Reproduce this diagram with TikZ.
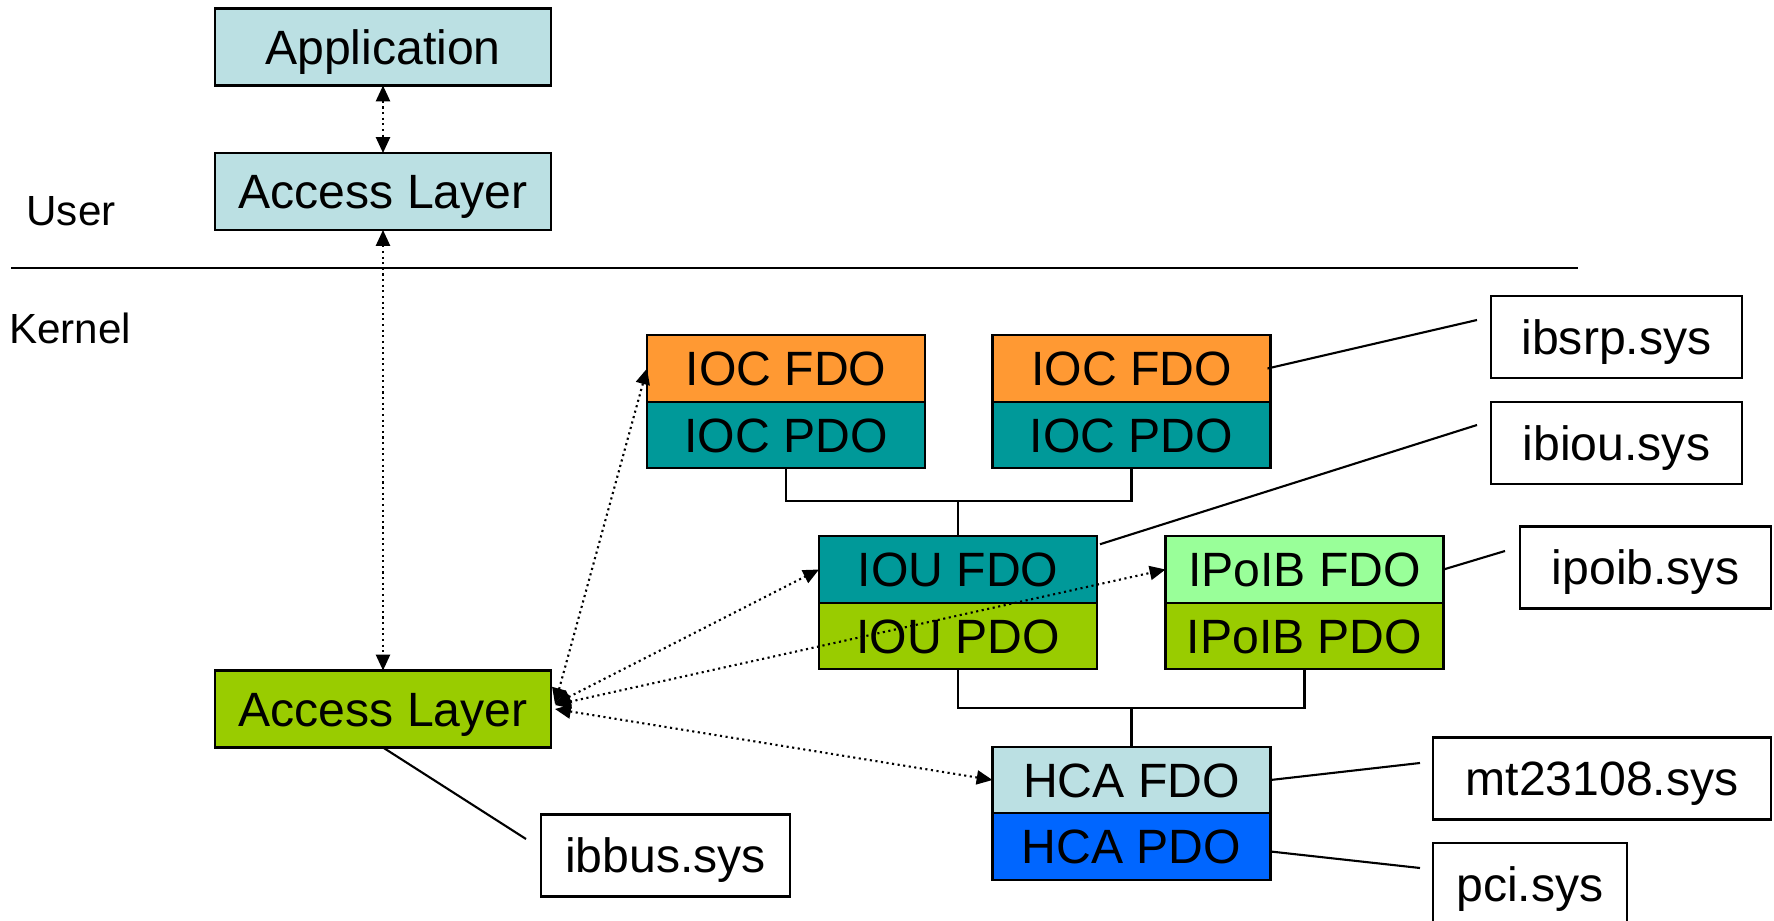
\documentclass[tikz,border=0pt]{standalone}
\usepackage{fontspec}
\setmainfont{Liberation Sans}
\usepackage{tikz}
\usetikzlibrary{arrows.meta, positioning, calc}
\definecolor{PaleBlue}{HTML}{BBE0E3}
\definecolor{IOCOrange}{HTML}{FF9933}
\definecolor{DeepTeal}{HTML}{009999}
\definecolor{LimeGreen}{HTML}{99CC00}
\definecolor{MintGreen}{HTML}{99FF99}
\definecolor{HCABlue}{HTML}{0066FF}

\begin{document}
\begin{tikzpicture}[>={Triangle[length=4.5pt, width=4pt]},
    big/.style={draw, line width=0.7pt, outer sep=0pt, inner sep=0pt, minimum width=3.36cm, minimum height=0.77cm, text height=9.8pt, text depth=0pt, font=\fontsize{13.7pt}{16pt}\selectfont},
    dev/.style={big, minimum width=2.78cm, minimum height=0.665cm},
    sys/.style={big, fill=white, line width=0.6pt, minimum height=0.82cm},
    tag/.style={font=\fontsize{12pt}{14pt}\selectfont},
    link/.style={line width=0.6pt},
    dots/.style={<->, densely dotted, line width=0.6pt}]
    \useasboundingbox (0,0) rectangle (17.74,-9.21);

    % User side
    \node[big, fill=PaleBlue] (app) at (3.83,-0.47) {Application};
    \node[big, fill=PaleBlue] (accU) at (3.83,-1.915) {Access Layer};
    \node[tag] (user) at (0.71,-2.11) {User};

    % User / Kernel split
    \coordinate (sepL) at (0.11,-2.68);
    \coordinate (sepR) at (15.78,-2.68);
    \draw[link] (sepL) -- (sepR);
    \node[tag] (kernel) at (0.70,-3.28) {Kernel};

    % Kernel side
    \node[big, fill=LimeGreen] (accK) at (3.83,-7.09) {Access Layer};

    \node[dev, fill=IOCOrange] (iocfdoA) at (7.86,-3.685) {IOC FDO};
    \node[dev, fill=DeepTeal, below=0pt of iocfdoA] (iocpdoA) {IOC PDO};
    \node[dev, fill=IOCOrange] (iocfdoB) at (11.315,-3.685) {IOC FDO};
    \node[dev, fill=DeepTeal, below=0pt of iocfdoB] (iocpdoB) {IOC PDO};

    \node[dev, fill=DeepTeal] (ioufdo) at (9.58,-5.695) {IOU FDO};
    \node[dev, fill=LimeGreen, below=0pt of ioufdo] (ioupdo) {IOU PDO};
    \node[dev, fill=MintGreen] (ipoibfdo) at (13.045,-5.695) {IPoIB FDO};
    \node[dev, fill=LimeGreen, below=0pt of ipoibfdo] (ipoibpdo) {IPoIB PDO};

    \node[dev, fill=PaleBlue] (hcafdo) at (11.315,-7.80) {HCA FDO};
    \node[dev, fill=HCABlue, below=0pt of hcafdo] (hcapdo) {HCA PDO};

    % Driver files
    \node[sys, minimum width=2.51cm] (ibsrp) at (16.165,-3.37) {ibsrp.sys};
    \node[sys, minimum width=2.51cm] (ibiou) at (16.165,-4.43) {ibiou.sys};
    \node[sys, minimum width=2.51cm] (ipoib) at (16.455,-5.675) {ipoib.sys};
    \node[sys, minimum width=3.38cm] (mt) at (16.02,-7.785) {mt23108.sys};
    \node[sys, minimum width=1.94cm] (pci) at (15.30,-8.84) {pci.sys};
    \node[sys, minimum width=2.49cm] (ibbus) at (6.655,-8.555) {ibbus.sys};

    % Bus tree
    \draw[link] (iocpdoA.south) -- ++(0,-0.33) -| (iocpdoB.south);
    \draw[link] (ioufdo.north) -- ++(0,0.35);
    \draw[link] (ioupdo.south) -- ++(0,-0.39) -| (ipoibpdo.south);
    \draw[link] (hcafdo.north) -- ++(0,0.38);

    % Pointers to driver files
    \coordinate (srpend) at (14.77,-3.20);
    \coordinate (iouend) at (14.77,-4.25);
    \coordinate (ipoibend) at (15.05,-5.51);
    \coordinate (mtend) at (14.20,-7.63);
    \coordinate (pciend) at (14.20,-8.68);
    \coordinate (busend) at (5.26,-8.39);
    \draw[link] ([xshift=-0.03cm]iocfdoB.east) -- (srpend);
    \draw[link] ([xshift=0.03cm, yshift=-0.08cm]ioufdo.north east) -- (iouend);
    \draw[link] (ipoibfdo.east) -- (ipoibend);
    \draw[link] (hcafdo.east) -- (mtend);
    \draw[link] ([yshift=-0.05cm]hcapdo.east) -- (pciend);
    \draw[link] (accK.south) -- (busend);

    % Access layer calls
    \draw[dots] (app.south) -- (accU.north);
    \draw[dots] (accU.south) -- (accK.north);
    \draw[dots] ([shift={(0.04,0.05)}]accK.east) -- (iocfdoA.west);
    \draw[dots] ([shift={(0.04,0.05)}]accK.east) -- (ioufdo.west);
    \draw[dots] ([shift={(0.04,0.04)}]accK.east) -- (ipoibfdo.west);
    \draw[dots] ([shift={(0.04,0.0)}]accK.east) -- (hcafdo.west);
\end{tikzpicture}
\end{document}
